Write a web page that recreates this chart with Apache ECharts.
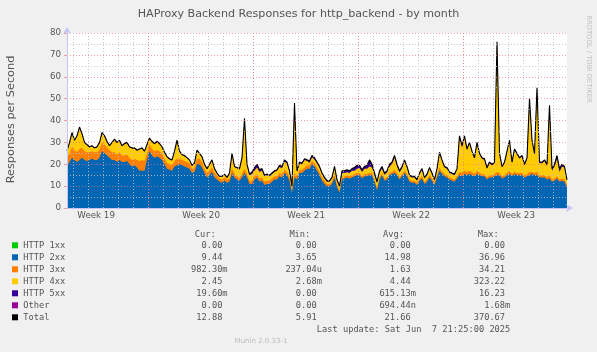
<!DOCTYPE html>
<html>
<head>
<meta charset="utf-8">
<script src="https://cdn.jsdelivr.net/npm/echarts@6.0.0/dist/echarts.min.js"></script>
<style>
  html, body { margin: 0; padding: 0; background: #f0f0f0; }
  #chart { width: 597px; height: 352px; }
</style>
</head>
<body>
<div id="chart"></div>
<script>
// x is in days since Sun 2025-05-04 00:00, one sample every 4 hours
const tStart = 1.5590 // Mon May 5 13:25
const tEnd = 34.8924  // Sat Jun 7 21:25
const dayLines = [2,3,4,5,6,7,8,9,10,11,12,13,14,15,16,17,18,19,20,21,22,23,24,25,26,27,28,29,30,31,32,33,34]
const weekLines = [7, 14, 21, 28]
const weekLabelPos = [3.5, 10.5, 17.5, 24.5, 31.5]
const weekLabels = ['Week 19', 'Week 20', 'Week 21', 'Week 22', 'Week 23']

const http2xx = [
  19,21,23,22,21,22,23,22,21.5,22,
  22.5,22,22,23,26,25,24,23,22,22,
  21,22,21,21,21.5,20,19,19.5,18.5,17,
  17,17,22,26,24,23,23.5,23,22,20,
  18,17.5,17,19,19.5,20,19.5,19,18.5,18,
  16,16.5,20,20,18.5,16,14,15,16.5,14,
  13,12,11.5,12.5,11.5,12,16,14,13,12.5,
  14,16,14,11,11,13,14,12,12.5,10.5,
  11,11,12,13,13,14.5,14,16,15,12.5,
  7,14,13,16,16,17,18,18,20,19,
  17,15,12.5,11,10,10,11,14,9.5,7,
  13,13.5,14,13.5,14,14.5,15,15,13.5,14.5,
  14.5,15,15,12,8,13,15,12.5,13,15,
  15.5,16,15,13,14.5,16,14.5,12,11.5,11.5,
  10.5,12.5,13.5,11,12,14,12.5,10.5,14,17,
  15.5,14.5,14,13,12.5,12,13.5,15,14.5,15.5,
  15,15.5,15,14.5,15.5,15,14.5,14.5,13,14,
  14,14.5,15,15,13.5,14,15,15.5,14.5,15.5,
  15,15,15,14,14.5,15,15.5,15,15,14,
  14,14,13,13.5,12,12.5,13.5,12,12.5,12,
  9.4
]
const http3xx = [
  4,4,5,4.5,4.5,5,4.5,4,4,3.5,
  3.5,3.5,3.5,3.5,4,4,3.5,3.5,3.5,3.5,
  3.5,3.5,3,3,3,3,3,3,3.5,4.5,
  5,4.5,3,3,3,3,3,3,3,2.5,
  2.5,2.5,2.5,2.5,3,2.5,2.5,2.5,2.5,2.5,
  2,2,2.5,2.5,2.5,2,2,2,2,2,
  2,1.5,1.5,1.5,1.5,1.5,2,1.5,1.5,1.5,
  1.5,2,1.5,1.5,1.5,1.5,1.5,1.5,1.5,1.5,
  1.5,1.5,1.5,1.5,1.5,1.5,1.5,1.5,1.5,1.5,
  1,2,1.5,1.5,1.5,1.5,1.5,1.5,1.5,1.5,
  1.5,1.5,1.5,1.5,1,1,1,1.5,1,1,
  1,1,1,1,1,1,1,1,1,1,
  1,1,1,1,1,1,1,1,1,1,
  1,1.5,1,1,1,1,1,1,1,1,
  1,1,1,1,1,1,1,1,1,1.5,
  1,1,1,1,1,1,1,1.5,1.5,1.5,
  1.5,1.5,1.5,1,1.5,1,1,1,1,1,
  1,1,1.5,1,1,1,1,1.5,1,1,
  1,1,1,1,1,1.5,1,1,1.5,1,
  1,1,1,1.5,1,1,1,1,1,1,
  1
]
const http4xx = [
  2.7,4.7,6.2,4.2,7.2,9.7,6.2,3.7,3.2,2.2,
  2.2,1.7,2.2,3.2,4.2,3.7,2.7,1.7,4.2,5.7,
  5.2,5.2,4.2,5.2,5.2,4.7,5.2,4.7,4.2,5.2,
  5.2,4.2,3.7,2.7,3.2,3.2,3.7,3.2,2.7,2.7,
  2.7,2.2,2.2,4.2,8.2,3.2,2.2,2.2,1.7,1.2,
  1.2,1.7,3.7,2.2,2.2,1.7,1.7,2.7,3.2,1.7,
  0.7,0.7,1.2,1.2,0.7,2.2,6.7,3.2,3.7,3.5,
  7,22.5,4,2.5,3,2.5,3,3,3.2,2.5,
  2.5,2,2,2,2.5,2.7,2.7,3.7,4,2.5,
  1.7,31.5,2,3,2.5,3.5,2,1.2,1.7,1.7,
  2,2,1.5,1,1,1,1.5,3,2,1.7,
  2,1.5,1.3,1.5,2,1.5,2,2.3,2,2.5,
  2.5,3,2.5,2.2,2.5,2.2,2,1.7,2.2,3,
  3.5,5.5,3.2,2.2,2.7,4.2,3,1.5,1.5,1.5,
  1,2,3,1.5,2,3,2,1,2.5,6.5,
  5,3,3,2,2,2,3,16,11.7,15.2,
  10,12.5,9,7,12.5,8.5,7,6.5,4,5.5,
  4.5,5,59,8.5,4,5.5,9.5,13.5,5,10,
  8.5,6.5,7.5,4.5,7,33,14,8.5,38,5.5,
  5.5,6.5,5.2,31.5,4,5.5,8,3.5,5.5,5.5,
  2.5
]
const http5xx = [
  0.3,0.3,0.3,0.3,0.3,0.3,0.3,0.3,0.3,0.3,
  0.3,0.3,0.3,0.3,0.3,0.3,0.3,0.3,0.3,0.3,
  0.3,0.3,0.3,0.3,0.3,0.3,0.3,0.3,0.3,0.3,
  0.3,0.3,0.3,0.3,0.3,0.3,0.3,0.3,0.3,0.3,
  0.3,0.3,0.3,0.3,0.3,0.3,0.3,0.3,0.3,0.3,
  0.3,0.3,0.3,0.3,0.3,0.3,0.3,0.3,0.3,0.3,
  0.3,0.3,0.3,0.3,0.3,0.3,0.3,0.3,0.3,0.5,
  0.5,0.5,0.5,0.5,1,1.5,1.5,1,0.8,0.5,
  0.5,0.5,0.5,0.5,0.5,0.8,0.8,0.8,0.5,0.5,
  0.3,0.5,0.5,0.5,0.5,0.5,0.5,0.8,0.8,0.8,
  0.5,0.5,0.5,0.5,0.5,0.5,0.5,0.5,0.5,0.3,
  1,1,1.2,1,1,1.5,1.5,1.2,1,1,
  1.5,3,1.5,0.8,0.5,0.8,1,0.8,0.8,1,
  1,1,0.8,0.8,0.8,0.8,0.5,0.5,0.5,0.5,
  0.5,0.5,0.5,0.5,0.5,0.5,0.5,0.5,0.5,0.5,
  0.5,0.5,0.5,0.5,0.5,0.5,0.5,0.5,0.8,0.8,
  0.5,0.5,0.5,0.5,0.5,0.5,0.5,0.5,0.5,0.5,
  0.5,0.5,0.5,0.5,0.5,0.5,0.5,0.5,0.5,0.5,
  0.5,0.5,0.5,0.5,0.5,0.5,0.5,0.5,0.5,0.5,
  0.5,0.5,0.8,0.5,1,1,1.5,1.5,1,0.5,
  0
]

// legend table (as printed under the graph)
const legendNames = ['HTTP 1xx', 'HTTP 2xx', 'HTTP 3xx', 'HTTP 4xx', 'HTTP 5xx', 'Other', 'Total']
const legendColors = ['#00CC00', '#0066B3', '#FF8000', '#FFCC00', '#330099', '#990099', '#000000']
const curVals = ['0.00 ', '9.44 ', '982.30m', '2.45 ', '19.60m', '0.00 ', '12.88 ']
const minVals = ['0.00 ', '3.65 ', '237.04u', '2.68m', '0.00 ', '0.00 ', '5.91 ']
const avgVals = ['0.00 ', '14.98 ', '1.63 ', '4.44 ', '615.13m', '694.44n', '21.66 ']
const maxVals = ['0.00 ', '36.96 ', '34.21 ', '323.22 ', '16.23 ', '1.68m', '370.67 ']
const colHeads = ['Cur:', 'Min:', 'Avg:', 'Max:']

const textColor = '#555'
const sans = 'DejaVu Sans'
const axisColor = '#c4c4f4'
const minorColor = 'rgba(190,190,190,0.85)'
const majorColor = 'rgba(240,120,120,0.7)'

const n = http2xx.length
const step = (tEnd - tStart) / (n - 1)
const toPoints = arr => arr.map((v, i) => [tStart + i * step, v])

// stack by hand: every layer is filled from zero, the taller ones are painted first
const layers = [http2xx, http3xx, http4xx, http5xx]
const cumulative = []
let run = http2xx.map(() => 0)
layers.forEach(arr => {
  run = run.map((s, i) => s + arr[i])
  cumulative.push(run)
})
const total = cumulative[cumulative.length - 1]

function areaSeries(name, arr, color, z) {
  return {
    name, type: 'line', data: toPoints(arr),
    symbol: 'none', z, silent: true,
    lineStyle: { width: 0 },
    areaStyle: { color, opacity: 1, origin: 'start' }
  }
}

const chart = echarts.init(document.getElementById('chart'), null, { renderer: 'canvas' })

const graphics = []
graphics.push({
  type: 'text', x: 298.5, y: 14.5,
  style: { text: 'HAProxy Backend Responses for http_backend - by month', align: 'center', verticalAlign: 'middle',
    fill: textColor, font: '11.1px "DejaVu Sans"' }
})
graphics.push({
  type: 'text', x: 11, y: 119.5, rotation: Math.PI / 2,
  style: { text: 'Responses per Second', align: 'center', verticalAlign: 'middle',
    fill: textColor, font: '11.3px "DejaVu Sans"' }
})
graphics.push({
  type: 'text', x: 588.5, y: 59, rotation: -Math.PI / 2,
  style: { text: 'RRDTOOL / TOBI OETIKER', align: 'center', verticalAlign: 'middle',
    fill: '#c0c0c0', font: '6.8px "DejaVu Sans"' }
})

const headX = [215.7, 310.3, 404, 498.7]
const colX = [227.6, 322, 416, 510.3]
colHeads.forEach((h, j) => {
  graphics.push({ type: 'text', x: headX[j], y: 234.3,
    style: { text: h, align: 'right', verticalAlign: 'middle', fill: textColor, font: '8.7px "DejaVu Sans Mono"' } })
})
legendNames.forEach((name, i) => {
  const y = 245.3 + i * 12
  graphics.push({ type: 'rect', shape: { x: 12, y: y - 3, width: 6, height: 6 }, style: { fill: legendColors[i] } })
  graphics.push({ type: 'text', x: 23.3, y,
    style: { text: name, align: 'left', verticalAlign: 'middle', fill: textColor, font: '8.7px "DejaVu Sans Mono"' } })
  ;[curVals, minVals, avgVals, maxVals].forEach((col, j) => {
    graphics.push({ type: 'text', x: colX[j], y,
      style: { text: col[i], align: 'right', verticalAlign: 'middle', fill: textColor, font: '8.7px "DejaVu Sans Mono"' } })
  })
})
graphics.push({ type: 'text', x: 510.3, y: 329.3,
  style: { text: 'Last update: Sat Jun  7 21:25:00 2025', align: 'right', verticalAlign: 'middle',
    fill: textColor, font: '8.7px "DejaVu Sans Mono"' } })
graphics.push({ type: 'text', x: 261, y: 341,
  style: { text: 'Munin 2.0.33-1', align: 'center', verticalAlign: 'middle',
    fill: '#bdbdbd', font: '7px "DejaVu Sans"' } })

chart.setOption({
  backgroundColor: '#f0f0f0',
  animation: false,
  grid: { left: 67, top: 33, width: 500, height: 175, show: true, backgroundColor: '#ffffff', borderWidth: 0 },
  xAxis: [
    {
      type: 'value', min: tStart, max: tEnd, position: 'bottom', z: 3,
      axisLine: { show: true, lineStyle: { color: axisColor }, symbol: ['none', 'arrow'], symbolSize: [6, 7], symbolOffset: [0, 6] },
      axisTick: { show: false, customValues: dayLines },
      axisLabel: { show: false },
      splitLine: { show: true, lineStyle: { color: minorColor, type: [1, 2] } }
    },
    {
      type: 'value', min: tStart, max: tEnd, position: 'bottom', z: 3,
      axisLine: { show: false },
      axisTick: { show: false, customValues: weekLines },
      axisLabel: {
        customValues: weekLabelPos,
        formatter: v => weekLabels[weekLabelPos.indexOf(v)] || '',
        color: textColor, fontFamily: sans, fontSize: 8.7, margin: 3
      },
      splitLine: { show: true, lineStyle: { color: majorColor, type: [1, 2] } }
    }
  ],
  yAxis: {
    type: 'value', min: 0, max: 80, interval: 10, z: 3,
    axisLine: { show: true, lineStyle: { color: axisColor }, symbol: ['none', 'arrow'], symbolSize: [6, 7], symbolOffset: [0, 6] },
    axisTick: { show: true, length: 3, lineStyle: { color: majorColor } },
    axisLabel: { color: textColor, fontFamily: sans, fontSize: 8.7, margin: 6 },
    splitLine: { show: true, lineStyle: { color: majorColor, type: [1, 2] } },
    minorTick: { show: false, splitNumber: 2 },
    minorSplitLine: { show: true, lineStyle: { color: minorColor, type: [1, 2] } }
  },
  series: [
    areaSeries('HTTP 5xx', cumulative[3], legendColors[4], 1),
    areaSeries('HTTP 4xx', cumulative[2], legendColors[3], 1.1),
    areaSeries('HTTP 3xx', cumulative[1], legendColors[2], 1.2),
    areaSeries('HTTP 2xx', cumulative[0], legendColors[1], 1.3),
    {
      name: 'Total', type: 'line', data: toPoints(total), symbol: 'none', z: 2, silent: true,
      lineStyle: { color: '#000000', width: 1.1 }
    }
  ],
  graphic: graphics
})
</script>
</body>
</html>
